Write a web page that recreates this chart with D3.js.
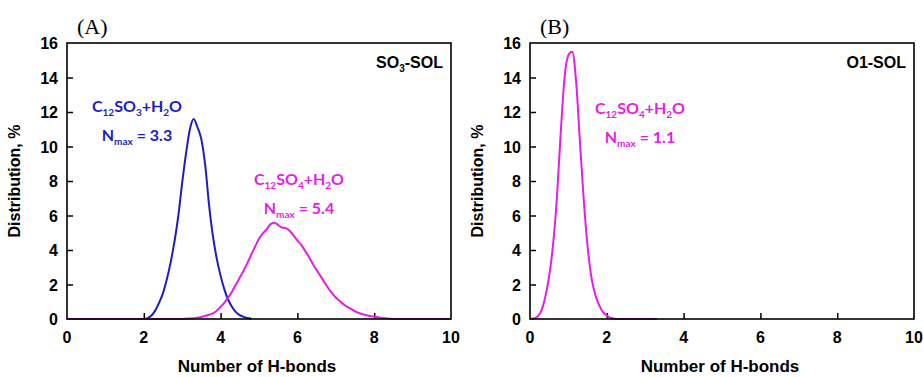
<!DOCTYPE html>
<html>
<head>
<meta charset="utf-8">
<script src="https://cdn.jsdelivr.net/npm/d3@7"></script>
<style>
  body { margin: 0; background: #fff; }
  svg { display: block; }
</style>
</head>
<body>
<div id="viz"></div>
<script>
// ---- data ----
var xTicks = [0, 2, 4, 6, 8, 10];
var yTicks = [0, 2, 4, 6, 8, 10, 12, 14, 16];

// panel A, C12SO3 + H2O (blue)
var so3X = [2.0, 2.1, 2.2, 2.3, 2.4, 2.5, 2.6, 2.7, 2.8, 2.9, 3.0, 3.1, 3.2, 3.3, 3.4, 3.5, 3.6, 3.7, 3.8, 3.9, 4.0, 4.1, 4.2, 4.3, 4.4, 4.5, 4.6, 4.7, 4.8];
var so3Y = [0.0, 0.05, 0.2, 0.5, 0.95, 1.5, 2.3, 3.3, 4.5, 6.0, 7.9, 9.6, 11.0, 11.6, 11.1, 10.4, 8.9, 6.6, 4.8, 3.5, 2.5, 1.7, 1.1, 0.7, 0.4, 0.22, 0.12, 0.06, 0.02];

// panel A, C12SO4 + H2O (magenta)
var so4X = [0, 3.0, 3.2, 3.4, 3.5, 3.6, 3.7, 3.8, 3.9, 4.0, 4.1, 4.2, 4.3, 4.4, 4.5, 4.6, 4.7, 4.8, 4.9, 5.0, 5.1, 5.2, 5.3, 5.4, 5.5, 5.6, 5.7, 5.8, 5.9, 6.0, 6.1, 6.2, 6.3, 6.4, 6.5, 6.6, 6.7, 6.8, 6.9, 7.0, 7.1, 7.2, 7.3, 7.4, 7.5, 7.6, 7.7, 7.8, 7.9, 8.0, 8.1, 8.2, 8.4, 8.6, 10];
var so4Y = [0, 0, 0.03, 0.08, 0.12, 0.18, 0.25, 0.33, 0.48, 0.7, 0.95, 1.25, 1.6, 2.0, 2.4, 2.8, 3.25, 3.75, 4.2, 4.65, 4.97, 5.2, 5.5, 5.58, 5.45, 5.3, 5.27, 5.1, 4.85, 4.55, 4.3, 3.95, 3.6, 3.2, 2.84, 2.5, 2.15, 1.8, 1.5, 1.25, 1.05, 0.85, 0.7, 0.58, 0.45, 0.35, 0.28, 0.22, 0.17, 0.12, 0.1, 0.06, 0.02, 0, 0];

// panel B, O1 of C12SO4 + H2O (magenta)
var o1X = [0, 0.1, 0.2, 0.3, 0.4, 0.5, 0.6, 0.7, 0.8, 0.9, 1.0, 1.1, 1.2, 1.3, 1.4, 1.5, 1.6, 1.7, 1.8, 1.9, 2.0, 2.1, 2.2, 2.4, 3.3];
var o1Y = [0, 0.03, 0.15, 0.5, 1.3, 2.5, 4.3, 7.0, 10.8, 14.0, 15.3, 15.5, 13.8, 10.3, 6.9, 4.2, 2.4, 1.4, 0.8, 0.4, 0.2, 0.06, 0.02, 0, 0];

var blue = "#1c1cc4";
var magenta = "#e41ee4";
var fontAxis = "'Liberation Sans', Arial, sans-serif";
var fontNote = "Lato, 'Open Sans', sans-serif";

var svg = d3.select("#viz").append("svg")
      .attr("width", 923)
      .attr("height", 377);

function zip(xs, ys) {
      return xs.map(function (x, i) { return { x: x, y: ys[i] }; });
}

// writes "C12SO4+H2O" style text with subscripts
function addFormula(g, x, y, parts, color) {
      var t = g.append("text")
            .attr("x", x)
            .attr("y", y)
            .attr("text-anchor", "middle")
            .style("font-family", fontNote)
            .style("font-weight", "bold")
            .style("font-size", "16px")
            .attr("fill", color);
      parts.forEach(function (p) {
            if (p[1]) {
                  t.append("tspan").attr("dy", 4).style("font-size", "10px").text(p[0]);
            } else {
                  t.append("tspan").attr("dy", -4).text(p[0]);
            }
      });
      // first tspan should not be shifted
      t.select("tspan").attr("dy", 0);
      return t;
}

function drawPanel(left, letter, tag, series, notes) {
      var top = 43, bottom = 319, width = 384;
      var g = svg.append("g");

      var x = d3.scaleLinear().domain([0, 10]).range([left, left + width]);
      var y = d3.scaleLinear().domain([0, 16]).range([bottom, top]);

      // inward ticks
      g.append("g")
            .attr("transform", "translate(0," + bottom + ")")
            .call(d3.axisTop(x).tickValues(xTicks.slice(1, -1)).tickSize(6).tickFormat(""))
            .call(function (a) { a.select(".domain").remove(); })
            .selectAll("line").attr("stroke", "#000").attr("stroke-width", 1.5);
      g.append("g")
            .attr("transform", "translate(" + left + ",0)")
            .call(d3.axisRight(y).tickValues(yTicks.slice(1, -1)).tickSize(6).tickFormat(""))
            .call(function (a) { a.select(".domain").remove(); })
            .selectAll("line").attr("stroke", "#000").attr("stroke-width", 1.5);

      // tick labels
      g.selectAll(".xl").data(xTicks).enter().append("text")
            .attr("x", function (d) { return x(d); })
            .attr("y", 343)
            .attr("text-anchor", "middle")
            .style("font-family", fontAxis).style("font-weight", "bold").style("font-size", "16px")
            .text(function (d) { return d; });
      g.selectAll(".yl").data(yTicks).enter().append("text")
            .attr("x", left - 9)
            .attr("y", function (d) { return y(d) + 6; })
            .attr("text-anchor", "end")
            .style("font-family", fontAxis).style("font-weight", "bold").style("font-size", "16px")
            .text(function (d) { return d; });

      // curves
      var line = d3.line().x(function (d) { return x(d.x); }).y(function (d) { return y(d.y); }).curve(d3.curveMonotoneX);
      series.forEach(function (s) {
            g.append("path")
                  .datum(zip(s.xs, s.ys))
                  .attr("d", line)
                  .attr("fill", "none")
                  .attr("stroke", s.color)
                  .attr("stroke-width", 2)
                  .attr("stroke-linejoin", "round");
      });

      // frame
      g.append("rect")
            .attr("x", left).attr("y", top)
            .attr("width", width).attr("height", bottom - top)
            .attr("fill", "none").attr("stroke", "#000").attr("stroke-width", 1.6);

      // axis titles
      g.append("text")
            .attr("x", left + width / 2 - 2)
            .attr("y", 372)
            .attr("text-anchor", "middle")
            .style("font-family", fontAxis).style("font-weight", "bold").style("font-size", "17px")
            .text("Number of H-bonds");
      g.append("text")
            .attr("transform", "translate(" + (left - 47) + "," + (top + bottom) / 2 + ")rotate(-90)")
            .attr("text-anchor", "middle")
            .style("font-family", fontAxis).style("font-weight", "bold").style("font-size", "16px")
            .text("Distribution, %");

      // panel letter
      g.append("text")
            .attr("x", left + 10)
            .attr("y", 34)
            .style("font-family", "'Liberation Serif', 'Times New Roman', serif")
            .style("font-size", "22px")
            .text(letter);

      // tag top right
      var tg = g.append("text")
            .attr("x", left + width - 8)
            .attr("y", 68)
            .attr("text-anchor", "end")
            .style("font-family", fontAxis).style("font-weight", "bold").style("font-size", "16px");
      tag.forEach(function (p, i) {
            var ts = tg.append("tspan").text(p[0]);
            if (p[1]) ts.attr("dy", 4).style("font-size", "10px");
            else if (i > 0) ts.attr("dy", -4);
      });

      notes.forEach(function (n) {
            addFormula(g, n.cx, n.y1, n.formula, n.color);
            addFormula(g, n.cx, n.y2, [["N", false], ["max", true], [" = " + n.nmax, false]], n.color);
      });
}

var so3Formula = [["C", false], ["12", true], ["SO", false], ["3", true], ["+H", false], ["2", true], ["O", false]];
var so4Formula = [["C", false], ["12", true], ["SO", false], ["4", true], ["+H", false], ["2", true], ["O", false]];

drawPanel(67, "(A)", [["SO", false], ["3", true], ["-SOL", false]],
      [{ xs: so3X, ys: so3Y, color: blue }, { xs: so4X, ys: so4Y, color: magenta }],
      [{ cx: 137, y1: 112, y2: 141, formula: so3Formula, nmax: "3.3", color: blue },
       { cx: 299, y1: 185, y2: 214, formula: so4Formula, nmax: "5.4", color: magenta }]);

drawPanel(530, "(B)", [["O1-SOL", false]],
      [{ xs: o1X, ys: o1Y, color: magenta }],
      [{ cx: 640, y1: 114, y2: 143, formula: so4Formula, nmax: "1.1", color: magenta }]);
</script>
</body>
</html>
